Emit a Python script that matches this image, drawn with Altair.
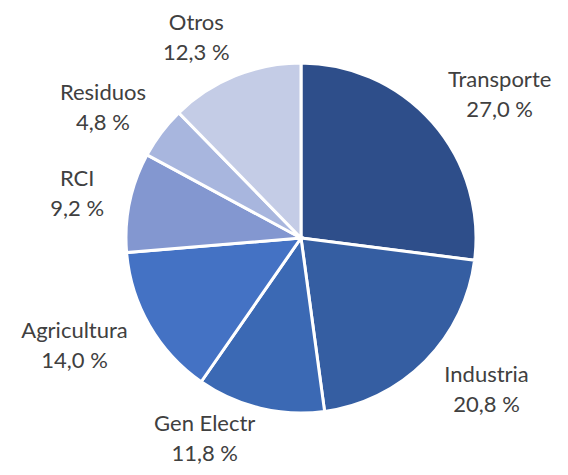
import altair as alt
import pandas as pd

categories = ["Transporte", "Industria", "Gen Electr", "Agricultura", "RCI", "Residuos", "Otros"]
values = [27.0, 20.8, 11.8, 14.0, 9.2, 4.8, 12.3]
colors = ["#2E4E8A", "#355EA2", "#3B69B4", "#4472C4", "#8397D0", "#A8B6DE", "#C4CCE6"]

df = pd.DataFrame({
    "cat": categories,
    "val": values,
    "order": list(range(len(categories))),
})
df["label"] = [[c, f"{v:.1f}".replace(".", ",") + " %"] for c, v in zip(categories, values)]

cx, cy = 293, 230     # pie centre in plot coordinates
ax, ay = 198, 216     # label anchor distances
char_w = 10           # approx label character width (px)
y_max = 431           # keep the lowest label block inside the canvas

pie = alt.Chart(df).mark_arc(radius=175, stroke="white", strokeWidth=3).encode(
    theta=alt.Theta("val:Q", stack=True),
    order=alt.Order("order:Q"),
    color=alt.Color("cat:N", scale=alt.Scale(domain=categories, range=colors), legend=None),
    x=alt.value(cx),
    y=alt.value(cy),
)

text = alt.Chart(df).transform_joinaggregate(
    total="sum(val)"
).transform_window(
    cum="sum(val)", sort=[alt.SortField("order")]
).transform_calculate(
    mid="(datum.cum - datum.val / 2) / datum.total * 2 * PI",
    w=f"max(length(datum.cat), 6) * {char_w}",
    lx=f"{cx} + {ax} * sin(datum.mid) + (sin(datum.mid) < 0 ? -1 : 1) * datum.w / 2",
    ly=f"min({cy} - {ay} * cos(datum.mid), {y_max})",
).mark_text(
    font="Lato", fontSize=22, color="#404040", align="center",
    baseline="middle", lineHeight=30, dy=-15,
).encode(
    x=alt.X("lx:Q", scale=None, axis=None),
    y=alt.Y("ly:Q", scale=None, axis=None),
    text="label",
)

chart = (pie + text).properties(
    width=552, height=459, padding=0,
    autosize=alt.AutoSizeParams(type="fit", contains="padding"),
).configure_view(stroke=None)

chart.save("out.html", embed_options={"renderer": "svg", "actions": False})
